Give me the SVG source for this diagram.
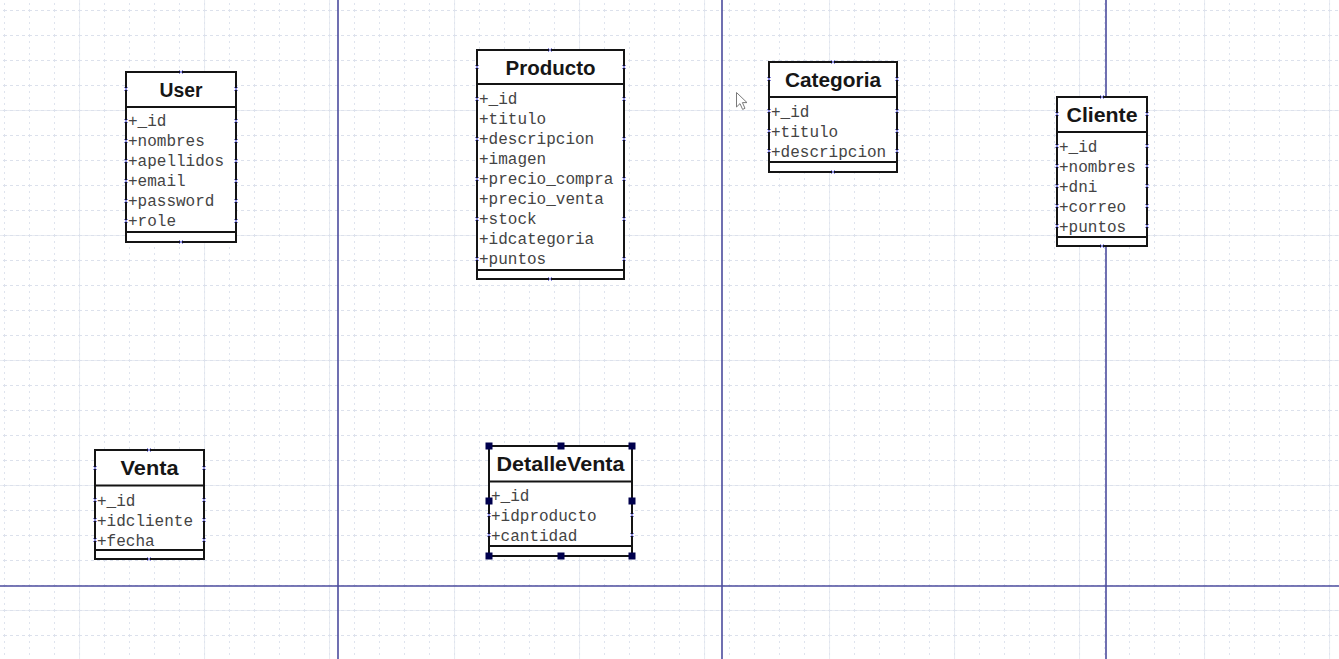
<svg xmlns="http://www.w3.org/2000/svg" xmlns:xlink="http://www.w3.org/1999/xlink" width="1339" height="659" viewBox="0 0 1339 659">
<style>
.box{fill:#fff;stroke:#141414;stroke-width:2}
.sep{stroke:#141414;stroke-width:2}
.title{font-family:"Liberation Sans",Arial,sans-serif;font-weight:bold;font-size:20px;fill:#161616;text-anchor:middle}
.attr{font-family:"Liberation Mono","Courier New",monospace;font-size:16px;fill:#444}
.page{stroke:#4d4d9e;stroke-width:1.6;fill:none}
.cp{stroke:#8a8ae0;stroke-width:1;fill:none}
.handle{fill:#00004d}
</style>
<defs>
<pattern id="minor" patternUnits="userSpaceOnUse" x="4" y="10" width="25" height="25">
<path d="M0.5 0V25" stroke="#dfe4ee" stroke-width="1" stroke-dasharray="2 4"/>
<path d="M0 0.5H25" stroke="#dce1ec" stroke-width="1" stroke-dasharray="3 3"/>
</pattern>
<pattern id="major" patternUnits="userSpaceOnUse" x="79" y="110" width="125" height="125">
<path d="M0.5 0V125M0 0.5H125" stroke="#e9ecf2" stroke-width="1.2" fill="none"/>
</pattern>
<path id="cpm" class="cp" d="M-2 -2L2 2M-2 2L2 -2"/>
</defs>
<rect width="1339" height="659" fill="#fff"/>
<rect width="1339" height="659" fill="url(#major)"/>
<rect width="1339" height="659" fill="url(#minor)"/>
<g id="page-breaks">
<path class="page" d="M338 0V659M722 0V659M1106 0V659M0 586H1339"/>
</g>
<g id="connectors"></g>

<g id="User">
<rect class="box" x="126" y="72" width="110" height="170"/>
<path class="sep" d="M126 107H236M126 232H236"/>
<text class="title" x="181" y="97" textLength="43" lengthAdjust="spacingAndGlyphs">User</text>
<text class="attr" x="128" y="126">+_id</text>
<text class="attr" x="128" y="146">+nombres</text>
<text class="attr" x="128" y="166">+apellidos</text>
<text class="attr" x="128" y="186">+email</text>
<text class="attr" x="128" y="206">+password</text>
<text class="attr" x="128" y="226">+role</text>
<g>
<use href="#cpm" x="126" y="89"/><use href="#cpm" x="236" y="89"/>
<use href="#cpm" x="126" y="121"/><use href="#cpm" x="236" y="121"/>
<use href="#cpm" x="126" y="141"/><use href="#cpm" x="236" y="141"/>
<use href="#cpm" x="126" y="161"/><use href="#cpm" x="236" y="161"/>
<use href="#cpm" x="126" y="181"/><use href="#cpm" x="236" y="181"/>
<use href="#cpm" x="126" y="201"/><use href="#cpm" x="236" y="201"/>
<use href="#cpm" x="126" y="221"/><use href="#cpm" x="236" y="221"/>
<use href="#cpm" x="181" y="72"/><use href="#cpm" x="181" y="242"/>
</g>
</g>

<g id="Producto">
<rect class="box" x="477" y="50" width="147" height="229"/>
<path class="sep" d="M477 84H624M477 270H624"/>
<text class="title" x="550.5" y="74.5" textLength="90" lengthAdjust="spacingAndGlyphs">Producto</text>
<text class="attr" x="479" y="104">+_id</text>
<text class="attr" x="479" y="124">+titulo</text>
<text class="attr" x="479" y="144">+descripcion</text>
<text class="attr" x="479" y="164">+imagen</text>
<text class="attr" x="479" y="184">+precio_compra</text>
<text class="attr" x="479" y="204">+precio_venta</text>
<text class="attr" x="479" y="224">+stock</text>
<text class="attr" x="479" y="244">+idcategoria</text>
<text class="attr" x="479" y="264">+puntos</text>
<g>
<use href="#cpm" x="477" y="67"/><use href="#cpm" x="624" y="67"/>
<use href="#cpm" x="477" y="99"/><use href="#cpm" x="624" y="99"/>
<use href="#cpm" x="477" y="139"/><use href="#cpm" x="624" y="139"/>
<use href="#cpm" x="477" y="179"/><use href="#cpm" x="624" y="179"/>
<use href="#cpm" x="477" y="219"/><use href="#cpm" x="624" y="219"/>
<use href="#cpm" x="477" y="259"/><use href="#cpm" x="624" y="259"/>
<use href="#cpm" x="550" y="50"/><use href="#cpm" x="550" y="279"/>
</g>
</g>

<g id="Categoria">
<rect class="box" x="769" y="62" width="128" height="110"/>
<path class="sep" d="M769 97H897M769 162H897"/>
<text class="title" x="833" y="86.5" textLength="96" lengthAdjust="spacingAndGlyphs">Categoria</text>
<text class="attr" x="771" y="116.5">+_id</text>
<text class="attr" x="771" y="136.5">+titulo</text>
<text class="attr" x="771" y="156.5">+descripcion</text>
<g>
<use href="#cpm" x="769" y="79"/><use href="#cpm" x="897" y="79"/>
<use href="#cpm" x="769" y="111"/><use href="#cpm" x="897" y="111"/>
<use href="#cpm" x="769" y="131"/><use href="#cpm" x="897" y="131"/>
<use href="#cpm" x="769" y="151"/><use href="#cpm" x="897" y="151"/>
<use href="#cpm" x="833" y="62"/><use href="#cpm" x="833" y="172"/>
</g>
</g>

<g id="Cliente">
<rect class="box" x="1057" y="97" width="90" height="149"/>
<path class="sep" d="M1057 132H1147M1057 237H1147"/>
<text class="title" x="1102" y="121.5" textLength="71" lengthAdjust="spacingAndGlyphs">Cliente</text>
<text class="attr" x="1059" y="151.5">+_id</text>
<text class="attr" x="1059" y="171.5">+nombres</text>
<text class="attr" x="1059" y="191.5">+dni</text>
<text class="attr" x="1059" y="211.5">+correo</text>
<text class="attr" x="1059" y="231.5">+puntos</text>
<g>
<use href="#cpm" x="1057" y="114"/><use href="#cpm" x="1147" y="114"/>
<use href="#cpm" x="1057" y="146"/><use href="#cpm" x="1147" y="146"/>
<use href="#cpm" x="1057" y="166"/><use href="#cpm" x="1147" y="166"/>
<use href="#cpm" x="1057" y="186"/><use href="#cpm" x="1147" y="186"/>
<use href="#cpm" x="1057" y="206"/><use href="#cpm" x="1147" y="206"/>
<use href="#cpm" x="1057" y="226"/><use href="#cpm" x="1147" y="226"/>
<use href="#cpm" x="1102" y="97"/><use href="#cpm" x="1102" y="246"/>
</g>
</g>

<g id="Venta">
<rect class="box" x="95" y="450" width="109" height="109"/>
<path class="sep" d="M95 485.5H204M95 550H204"/>
<text class="title" x="149.5" y="475" textLength="58" lengthAdjust="spacingAndGlyphs">Venta</text>
<text class="attr" x="97" y="505.5">+_id</text>
<text class="attr" x="97" y="525.5">+idcliente</text>
<text class="attr" x="97" y="545.5">+fecha</text>
<g>
<use href="#cpm" x="95" y="468"/><use href="#cpm" x="204" y="468"/>
<use href="#cpm" x="95" y="500"/><use href="#cpm" x="204" y="500"/>
<use href="#cpm" x="95" y="520"/><use href="#cpm" x="204" y="520"/>
<use href="#cpm" x="95" y="540"/><use href="#cpm" x="204" y="540"/>
<use href="#cpm" x="149" y="450"/><use href="#cpm" x="149" y="559"/>
</g>
</g>

<g id="DetalleVenta">
<rect class="box" x="489" y="446" width="143" height="110"/>
<path class="sep" d="M489 481.5H632M489 546H632"/>
<text class="title" x="560.5" y="471" textLength="128" lengthAdjust="spacingAndGlyphs">DetalleVenta</text>
<text class="attr" x="491" y="500.5">+_id</text>
<text class="attr" x="491" y="520.5">+idproducto</text>
<text class="attr" x="491" y="540.5">+cantidad</text>
<g>
<use href="#cpm" x="489" y="515"/><use href="#cpm" x="632" y="515"/>
<use href="#cpm" x="489" y="535"/><use href="#cpm" x="632" y="535"/>
</g>
<g id="selection-handles">
<rect class="handle" x="485.5" y="442.5" width="7" height="7"/>
<rect class="handle" x="557.5" y="442.5" width="7" height="7"/>
<rect class="handle" x="628.5" y="442.5" width="7" height="7"/>
<rect class="handle" x="485.5" y="497.5" width="7" height="7"/>
<rect class="handle" x="628.5" y="497.5" width="7" height="7"/>
<rect class="handle" x="485.5" y="552.5" width="7" height="7"/>
<rect class="handle" x="557.5" y="552.5" width="7" height="7"/>
<rect class="handle" x="628.5" y="552.5" width="7" height="7"/>
</g>
</g>

<g id="cursor">
<path d="M736.5 92.5V107L740 103.6L742.6 109.4L745 108.3L742.4 102.6H747Z" fill="#fff" stroke="#7a7a7a" stroke-width="1" stroke-linejoin="round"/>
</g>
</svg>
